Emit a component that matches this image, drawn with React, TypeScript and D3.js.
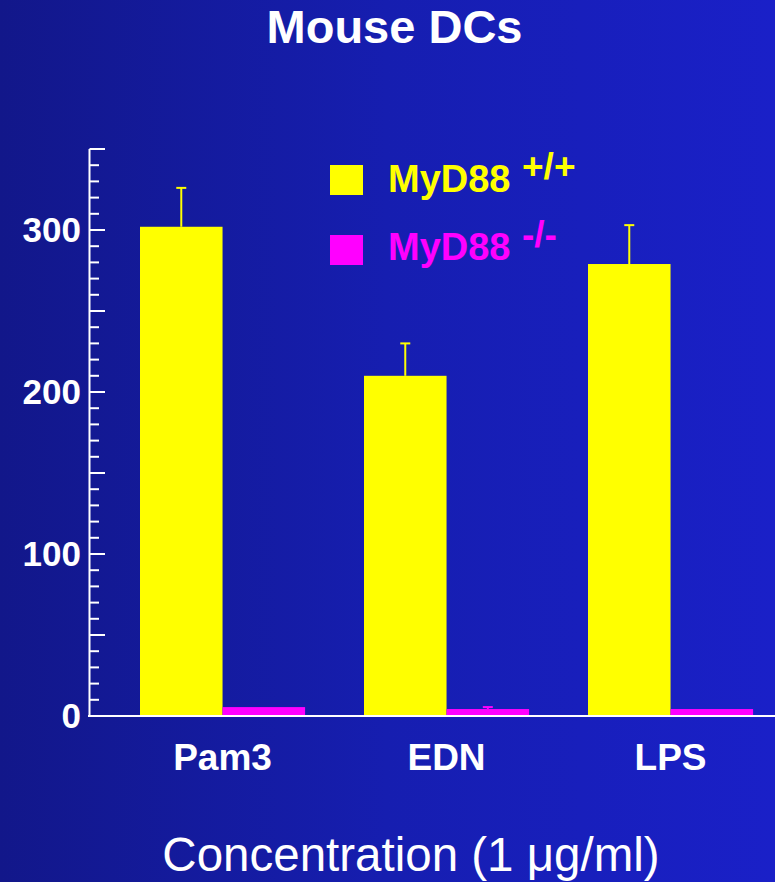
import React from "react";
import * as d3 from "d3";

const categories = ["Pam3", "EDN", "LPS"];
const seriesNames = ["MyD88 +/+", "MyD88 -/-"];
const wildType = [302, 210, 279];
const wildTypeErr = [24, 20, 24];
const knockout = [5.5, 4.3, 4.3];
const knockoutErr = [0, 1.2, 0];
const yTicks = d3.range(0, 351, 10);
const yLabels = [0, 100, 200, 300];

const W = 775;
const H = 882;
const font = "'Liberation Sans', Arial, Helvetica, sans-serif";

export default function App() {
  const y = d3.scaleLinear().domain([0, 350]).range([716, 149]);
  const step = 224;
  const x = d3
    .scaleBand<string>()
    .domain(categories)
    .range([140 - 0.15 * step, 140 - 0.15 * step + step * (3 - 0.263 + 0.3)])
    .paddingInner(0.263)
    .paddingOuter(0.15);
  const sub = d3.scaleBand<string>().domain(seriesNames).range([0, x.bandwidth()]).padding(0);
  const colors = ["#ffff00", "#ff00ff"];
  const series = [
    { name: seriesNames[0], values: wildType, err: wildTypeErr, color: colors[0] },
    { name: seriesNames[1], values: knockout, err: knockoutErr, color: colors[1] },
  ];

  return (
    <svg
      width={W}
      height={H}
      style={{ position: "absolute", left: 0, top: 0, display: "block" }}
      fontFamily={font}
    >
      <defs>
        <linearGradient id="bg" x1="0" y1="0" x2="1" y2="0">
          <stop offset="0" stopColor="#12178a" />
          <stop offset="0.5" stopColor="#161eb0" />
          <stop offset="1" stopColor="#1a20c8" />
        </linearGradient>
      </defs>
      <rect x={0} y={0} width={W} height={H} fill="url(#bg)" />

      <text x={394.5} y={43} textAnchor="middle" fontSize={47} fontWeight="bold" fill="#fff">
        Mouse DCs
      </text>

      {/* bars */}
      {series.map((s) =>
        categories.map((c, i) => {
          const bx = (x(c) ?? 0) + (sub(s.name) ?? 0);
          const bw = sub.bandwidth();
          const top = y(s.values[i]);
          const cx = bx + bw / 2;
          return (
            <g key={s.name + c}>
              <rect x={bx} y={top} width={bw} height={y(0) - top} fill={s.color} />
              {s.err[i] > 0 && (
                <g stroke={s.color} strokeWidth={2}>
                  <line x1={cx} x2={cx} y1={top} y2={y(s.values[i] + s.err[i])} />
                  <line x1={cx - 5} x2={cx + 5} y1={y(s.values[i] + s.err[i])} y2={y(s.values[i] + s.err[i])} />
                </g>
              )}
            </g>
          );
        })
      )}

      {/* y axis */}
      <line x1={89.5} x2={89.5} y1={y(350)} y2={y(0) + 1} stroke="#fff" strokeWidth={2} />
      {yTicks.map((t) => (
        <line
          key={t}
          x1={89.5}
          x2={t % 50 === 0 ? 105 : 99}
          y1={y(t)}
          y2={y(t)}
          stroke="#fff"
          strokeWidth={2}
        />
      ))}
      {yLabels.map((t) => (
        <text
          key={t}
          x={81}
          y={y(t) + 12}
          textAnchor="end"
          fontSize={35}
          fontWeight="bold"
          fill="#fff"
        >
          {t}
        </text>
      ))}

      {/* x axis */}
      <line x1={88} x2={W} y1={y(0)} y2={y(0)} stroke="#fff" strokeWidth={2} />
      {categories.map((c) => (
        <text
          key={c}
          x={(x(c) ?? 0) + x.bandwidth() / 2}
          y={770}
          textAnchor="middle"
          fontSize={37}
          fontWeight="bold"
          fill="#fff"
        >
          {c}
        </text>
      ))}

      <text x={411} y={871} textAnchor="middle" fontSize={47.5} fill="#fff">
        Concentration (1 μg/ml)
      </text>

      {/* legend */}
      {series.map((s, i) => {
        const ly = [165, 235][i];
        const base = [192, 260][i];
        const sup = s.name.split(" ")[1];
        return (
          <g key={s.name}>
            <rect x={330} y={ly} width={33} height={30} fill={s.color} />
            <text x={388} y={base} fontSize={38} fontWeight="bold" fill={s.color}>
              MyD88
            </text>
            <text x={522} y={base - 13} fontSize={37} fontWeight="bold" fill={s.color}>
              {sup}
            </text>
          </g>
        );
      })}
    </svg>
  );
}
